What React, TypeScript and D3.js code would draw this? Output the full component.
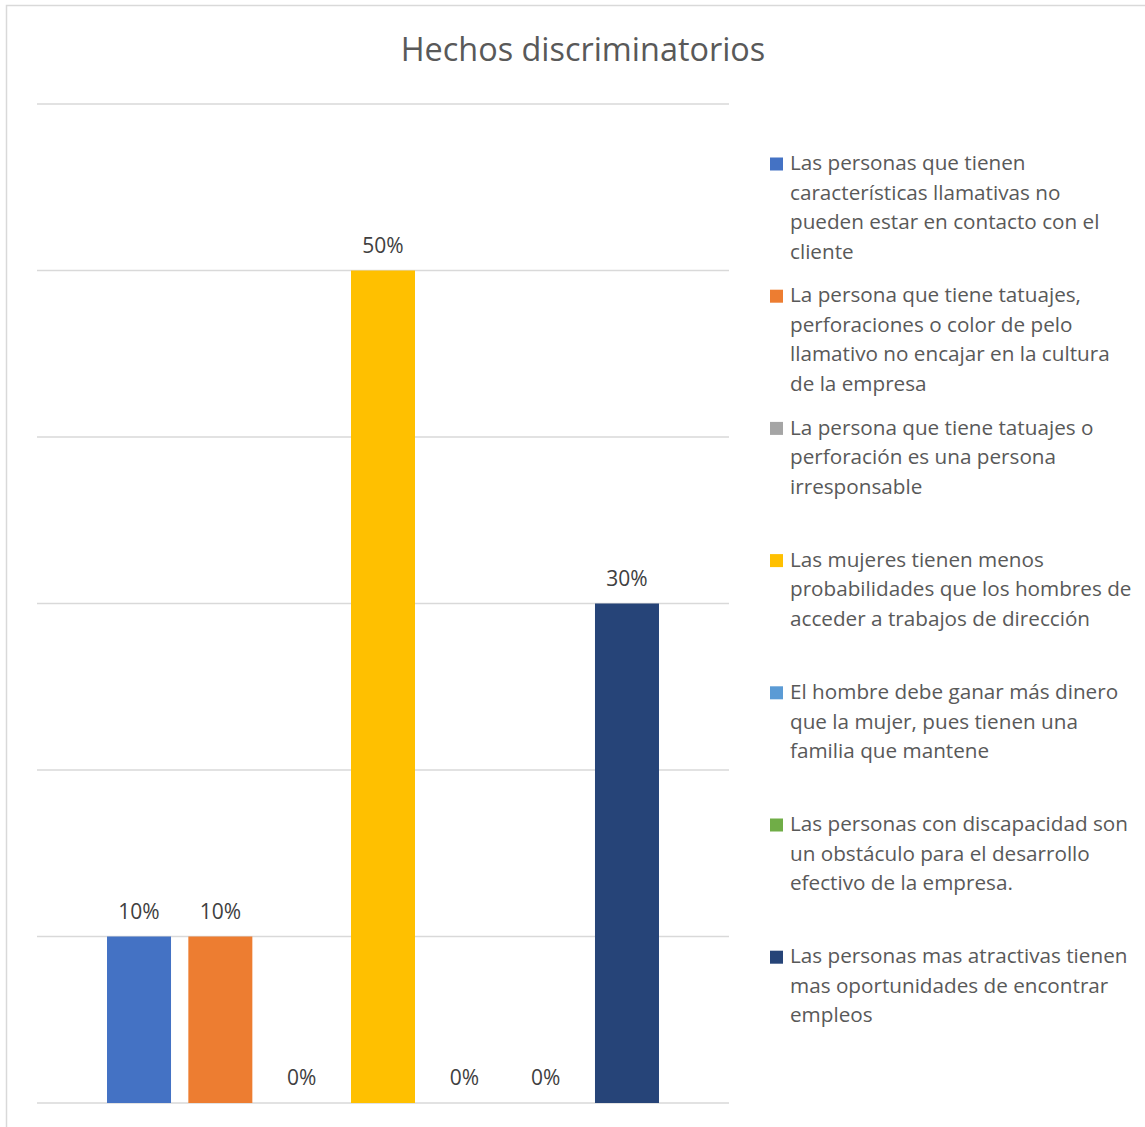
import React from "react";
import * as d3 from "d3";

const title = "Hechos discriminatorios";
const seriesNames: string[][] = [
  ["Las personas que tienen", "características llamativas no", "pueden estar en contacto con el", "cliente"],
  ["La persona que tiene tatuajes,", "perforaciones o color de pelo", "llamativo no encajar en la cultura", "de la empresa"],
  ["La persona que tiene tatuajes o", "perforación es una persona", "irresponsable"],
  ["Las mujeres tienen menos", "probabilidades que los hombres de", "acceder a trabajos de dirección"],
  ["El hombre debe ganar más dinero", "que la mujer, pues tienen una", "familia que mantene"],
  ["Las personas con discapacidad son", "un obstáculo para el desarrollo", "efectivo de la empresa."],
  ["Las personas mas atractivas tienen", "mas oportunidades de encontrar", "empleos"],
];
const values = [0.1, 0.1, 0, 0.5, 0, 0, 0.3];
const colors = ["#4472C4", "#ED7D31", "#A5A5A5", "#FFC000", "#5B9BD5", "#70AD47", "#264478"];
const yTicks = [0, 0.1, 0.2, 0.3, 0.4, 0.5, 0.6];

const FONT = "'Open Sans', Lato, sans-serif";

export default function App() {
  const W = 1145, H = 1127;
  const plotLeft = 37, plotRight = 729, plotTop = 104, plotBottom = 1103;
  const y = d3.scaleLinear().domain([0, 0.6]).range([plotBottom, plotTop]);
  const ids = values.map((_, i) => String(i));
  const x = d3.scaleBand<string>().domain(ids).range([98.35, 667.65]).paddingInner(0.213).paddingOuter(0.1065);
  const fmt = d3.format(".0%");

  const legendX = 770, legendTop = 163, slot = 132.2, lineH = 29.5;

  return (
    <svg width={W} height={H} style={{ position: "absolute", left: 0, top: 0, background: "#fff" }} fontFamily={FONT}>
      <rect x={6.5} y={5.5} width={W + 10} height={H + 10} fill="#fff" stroke="#d9d9d9" strokeWidth={1.5} />
      <text x={583} y={50} dy="0.35em" textAnchor="middle" fontSize={32.4} fill="#595959">{title}</text>
      {yTicks.map((t) => (
        <line key={t} x1={plotLeft} x2={plotRight} y1={y(t)} y2={y(t)} stroke="#d9d9d9" strokeWidth={1.5} />
      ))}
      {values.map((v, i) => (
        <rect key={i} x={x(ids[i])} y={y(v)} width={x.bandwidth()} height={plotBottom - y(v)} fill={colors[i]} />
      ))}
      {values.map((v, i) => (
        <text key={"l" + i} x={(x(ids[i]) as number) + x.bandwidth() / 2} y={y(v) - 25} dy="0.35em" textAnchor="middle" fontSize={21} fill="#404040">{fmt(v)}</text>
      ))}
      {seriesNames.map((lines, i) => {
        const cy = legendTop + i * slot;
        return (
          <g key={"lg" + i}>
            <rect x={legendX} y={cy - 5.5} width={13} height={13} fill={colors[i]} />
            {lines.map((ln, j) => (
              <text key={j} x={790} y={cy + j * lineH} dy="0.35em" fontSize={20.7} fill="#595959">{ln}</text>
            ))}
          </g>
        );
      })}
    </svg>
  );
}
